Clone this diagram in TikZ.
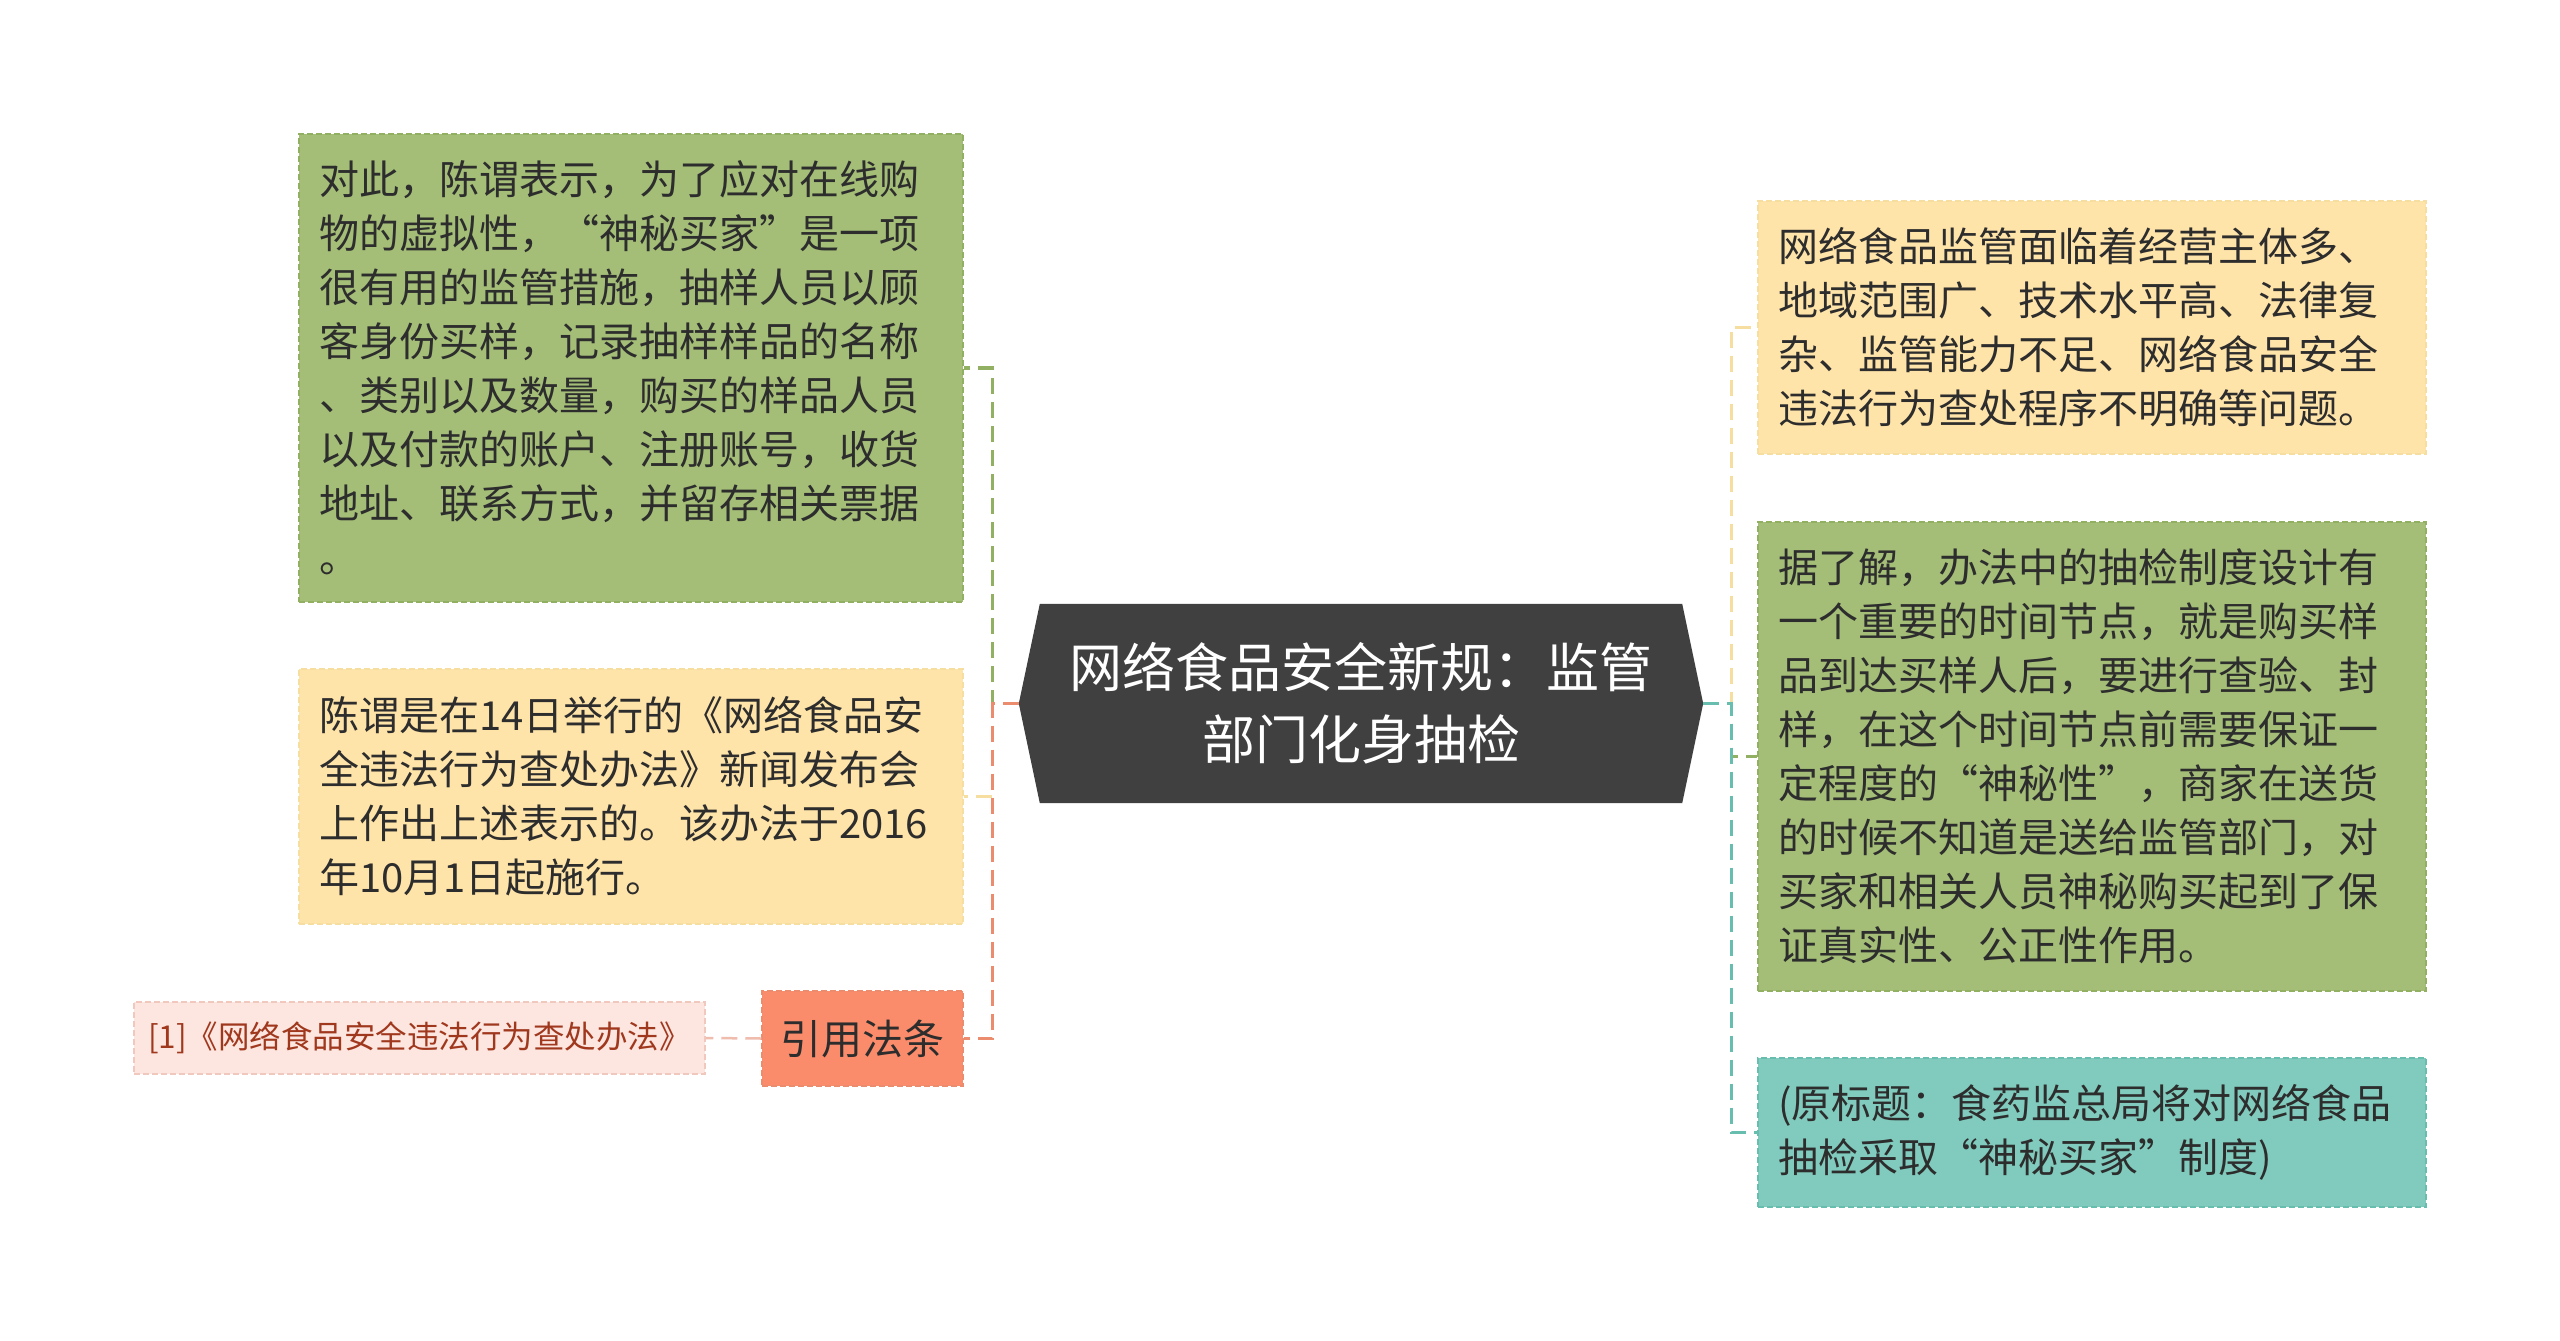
\documentclass[tikz,border=0pt]{standalone}
\usepackage{fontspec}
\setmainfont{Noto Sans CJK SC}
\usetikzlibrary{backgrounds}
\definecolor{gfill}{RGB}{164,190,120}
\definecolor{gline}{RGB}{146,176,98}
\definecolor{yfill}{RGB}{255,228,170}
\definecolor{yline}{RGB}{245,222,160}
\definecolor{ofill}{RGB}{251,140,107}
\definecolor{oline}{RGB}{236,140,110}
\definecolor{tfill}{RGB}{128,203,189}
\definecolor{tline}{RGB}{104,190,174}
\definecolor{pfill}{RGB}{253,230,224}
\definecolor{pline}{RGB}{240,200,190}
\definecolor{ptext}{RGB}{160,56,30}
\definecolor{cfill}{RGB}{64,64,64}
\definecolor{txt}{RGB}{45,45,45}
\tikzset{
  box/.style={rectangle, inner sep=0pt, align=left, text=txt,
    font=\fontsize{40}{54}\selectfont, line width=1.5pt, dash pattern=on 6pt off 3pt},
  greenbox/.style={box, fill=gfill, draw=gline},
  yellowbox/.style={box, fill=yfill, draw=yline},
  orangebox/.style={box, fill=ofill, draw=oline, align=center, font=\fontsize{41}{54}\selectfont},
  tealbox/.style={box, fill=tfill, draw=tline},
  pinkbox/.style={box, fill=pfill, draw=pline, text=ptext, align=center, font=\fontsize{31.5}{40}\selectfont},
  link/.style={line width=3.2pt, dash pattern=on 16pt off 8pt},
}
\begin{document}
\begin{tikzpicture}[x=1pt,y=-1pt]
\useasboundingbox (0,0) rectangle (2560,1341);

% central topic
\node[inner sep=0pt, minimum width=684pt, minimum height=199pt, text=white, align=center,
  font=\fontsize{53}{72}\selectfont] (center) at (1361,703.5)
  {网络食品安全新规：监管\\部门化身抽检};
\begin{scope}[on background layer]
\fill[white] (0,0) rectangle (2560,1341);
\fill[cfill] (center.west) -- ([xshift=21pt]center.north west) -- ([xshift=-21pt]center.north east)
  -- (center.east) -- ([xshift=-21pt]center.south east) -- ([xshift=21pt]center.south west) -- cycle;
\end{scope}

% left children
\node[greenbox, minimum width=664pt, minimum height=468pt, text width=624pt] (lg) at (631,368)
{对此，陈谓表示，为了应对在线购\\物的虚拟性，“神秘买家”是一项\\很有用的监管措施，抽样人员以顾\\客身份买样，记录抽样样品的名称\\、类别以及数量，购买的样品人员\\以及付款的账户、注册账号，收货\\地址、联系方式，并留存相关票据\\。};
\node[yellowbox, minimum width=664pt, minimum height=255pt, text width=624pt] (ly) at (631,796.5)
{陈谓是在14日举行的《网络食品安\\全违法行为查处办法》新闻发布会\\上作出上述表示的。该办法于2016\\年10月1日起施行。};
\node[orangebox, minimum width=201pt, minimum height=95pt] (lo) at (862.5,1038.5) {引用法条};
\node[pinkbox, minimum width=571pt, minimum height=72pt] (cite) at (419.5,1038) {[1]《网络食品安全违法行为查处办法》};

% right children
\node[yellowbox, minimum width=668pt, minimum height=253pt, text width=628pt] (ry) at (2092,327.5)
{网络食品监管面临着经营主体多、\\地域范围广、技术水平高、法律复\\杂、监管能力不足、网络食品安全\\违法行为查处程序不明确等问题。};
\node[greenbox, minimum width=668pt, minimum height=469pt, text width=628pt] (rg) at (2092,756.5)
{据了解，办法中的抽检制度设计有\\一个重要的时间节点，就是购买样\\品到达买样人后，要进行查验、封\\样，在这个时间节点前需要保证一\\定程度的“神秘性”，商家在送货\\的时候不知道是送给监管部门，对\\买家和相关人员神秘购买起到了保\\证真实性、公正性作用。};
\node[tealbox, minimum width=668pt, minimum height=149pt, text width=628pt] (rt) at (2092,1132.5)
{(原标题：食药监总局将对网络食品\\抽检采取“神秘买家”制度)};

% connectors
\draw[link, draw=gline] (center.west) -- ++(-26,0) |- (lg.east);
\draw[link, draw=yline] (center.west) -- ++(-26,0) |- (ly.east);
\draw[link, draw=oline] (center.west) -- ++(-26,0) |- (lo.east);
\draw[link, draw=pline!80!oline, line width=2.5pt] (lo.west) -- (cite.east);

\draw[link, draw=yline] (center.east) -- ++(28,0) |- (ry.west);
\draw[link, draw=gline] (center.east) -- ++(28,0) |- (rg.west);
\draw[link, draw=tline] (center.east) -- ++(28,0) |- (rt.west);
\end{tikzpicture}
\end{document}
